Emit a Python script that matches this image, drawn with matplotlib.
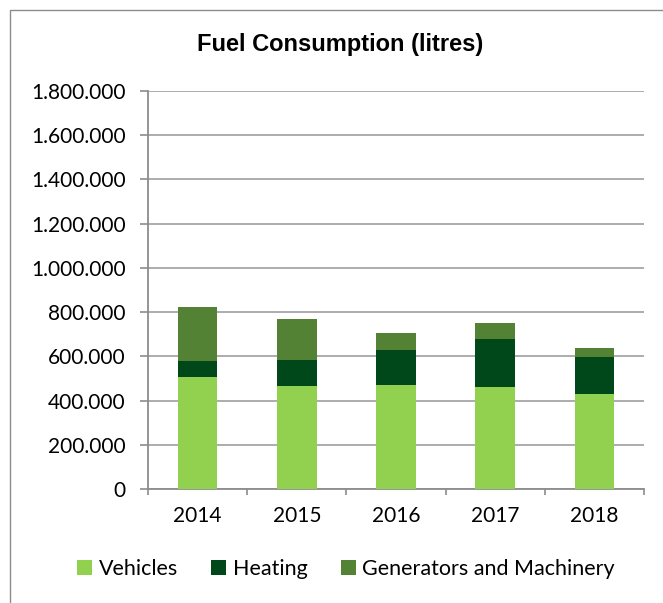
import matplotlib
matplotlib.use("Agg")
import matplotlib.pyplot as plt
from matplotlib.ticker import FuncFormatter, FixedLocator
from matplotlib.patches import Rectangle, Patch

years = ["2014", "2015", "2016", "2017", "2018"]
vehicles = [506000, 468000, 471000, 460000, 430000]
heating = [72000, 117000, 159000, 220000, 166000]
generators = [246000, 184000, 76000, 71000, 42000]
series_names = ["Vehicles", "Heating", "Generators and Machinery"]
colors = ["#92D050", "#00471A", "#548235"]
yticks = [0, 200000, 400000, 600000, 800000, 1000000, 1200000, 1400000, 1600000, 1800000]

W, H = 663, 603
fig = plt.figure(figsize=(W / 100, H / 100), dpi=100)
fig.patch.set_facecolor("white")

# outer chart frame
fig.add_artist(Rectangle((10 / W, -0.05), 1.2, (H - 10) / H + 0.05, transform=fig.transFigure,
                         fill=False, edgecolor="#8c8c8c", linewidth=1.0))

L, R, T, B = 148, 644, 91, 489
ax = fig.add_axes([L / W, (H - B) / H, (R - L) / W, (B - T) / H])

x = list(range(len(years)))
bottom2 = [v + h for v, h in zip(vehicles, heating)]
ax.bar(x, vehicles, width=0.4, color=colors[0], zorder=3)
ax.bar(x, heating, width=0.4, bottom=vehicles, color=colors[1], zorder=3)
ax.bar(x, generators, width=0.4, bottom=bottom2, color=colors[2], zorder=3)

ax.set_xlim(-0.5, len(years) - 0.5)
ax.set_ylim(0, 1800000)
ax.set_yticks(yticks)
ax.yaxis.set_major_formatter(FuncFormatter(lambda v, p: f"{int(v):,}".replace(",", ".")))
ax.set_xticks(x)
ax.set_xticklabels(years)
ax.xaxis.set_minor_locator(FixedLocator([i - 0.5 for i in range(len(years) + 1)]))

tickfont = "Lato"
for lab in ax.get_yticklabels() + ax.get_xticklabels():
    lab.set_fontfamily(tickfont)
ax.tick_params(axis="y", labelsize=15, length=6, width=1.2, color="#8c8c8c", pad=10, labelcolor="black")
ax.tick_params(axis="x", which="major", length=0, labelsize=15, pad=12)
ax.tick_params(axis="x", which="minor", length=4.5, width=1.2, color="#8c8c8c")

ax.grid(axis="y", color="#a6a6a6", linewidth=1.3, zorder=0)
for s in ["top", "right"]:
    ax.spines[s].set_visible(False)
for s in ["left", "bottom"]:
    ax.spines[s].set_color("#8c8c8c")
    ax.spines[s].set_linewidth(1.3)

fig.text((198 + 482) / 2 / W, 1 - 45 / H, "Fuel Consumption (litres)", ha="center", va="center",
         fontsize=17, fontweight="bold", family="Liberation Sans")

handles = [Patch(facecolor=c, edgecolor="none") for c in colors]
leg = fig.legend(handles, series_names, loc="center", bbox_to_anchor=(346 / W, 1 - 569 / H),
                 ncol=3, frameon=False, prop={"family": "Lato", "size": 15.5},
                 handlelength=0.7, handleheight=0.7, handletextpad=0.3, columnspacing=1.55)

fig.savefig("out.png", dpi=100, facecolor="white")
